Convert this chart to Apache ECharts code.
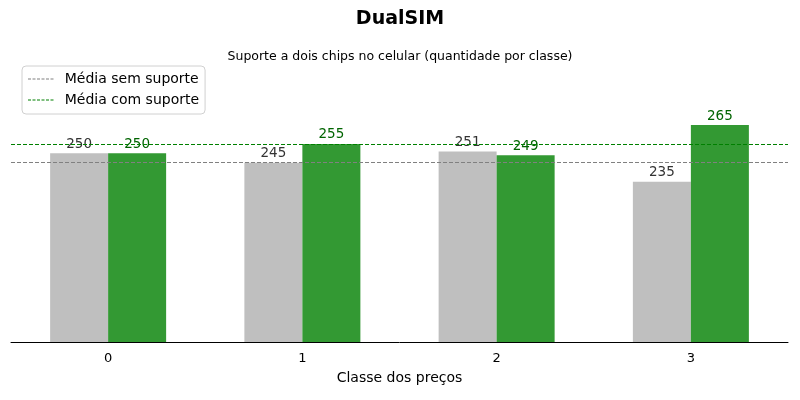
<!DOCTYPE html>
<html>
<head>
<meta charset="utf-8">
<script src="https://cdn.jsdelivr.net/npm/echarts@6/dist/echarts.min.js"></script>
<style>
html, body { margin: 0; padding: 0; background: #fff; }
#main { width: 800px; height: 400px; }
</style>
</head>
<body>
<div id="main"></div>
<script>
var categories = ['0', '1', '2', '3'];
var semSuporte = [250, 245, 251, 235];
var comSuporte = [250, 255, 249, 265];

function mean(arr) {
    var s = 0;
    for (var i = 0; i < arr.length; i++) s += arr[i];
    return s / arr.length;
}

var font = 'DejaVu Sans';
// linha tracejada para o ícone da legenda
var dashIcon = 'path://M0,0h3v1h-3z M4.5,0h3v1h-3z M9,0h3v1h-3z M13.5,0h3v1h-3z M18,0h3v1h-3z M22.5,0h3v1h-3z';

var option = {
    animation: false,
    color: ['#bfbfbf', '#339933', '#808080', '#008000'],
    textStyle: { fontFamily: font },
    title: [{
        text: 'DualSIM',
        left: 'center',
        top: 5,
        textStyle: { fontFamily: font, fontSize: 19, fontWeight: 'bold', color: '#000' }
    }, {
        text: 'Suporte a dois chips no celular (quantidade por classe)',
        left: 'center',
        top: 45,
        textStyle: { fontFamily: font, fontSize: 12.5, fontWeight: 'normal', color: '#000' }
    }],
    legend: {
        left: 22,
        top: 66,
        orient: 'vertical',
        data: [
            { name: 'Média sem suporte', icon: dashIcon },
            { name: 'Média com suporte', icon: dashIcon }
        ],
        backgroundColor: '#fff',
        borderColor: '#d0d0d0',
        borderWidth: 1,
        borderRadius: 4,
        padding: [6, 6, 7, 6],
        itemGap: 7,
        itemWidth: 26,
        itemHeight: 1,
        textStyle: { fontFamily: font, fontSize: 14, color: '#000', padding: [0, 0, 0, 6] }
    },
    grid: { left: 11, right: 12, top: 59, bottom: 58 },
    xAxis: {
        type: 'category',
        data: categories,
        name: 'Classe dos preços',
        nameLocation: 'middle',
        nameGap: 29,
        nameTextStyle: { fontFamily: font, fontSize: 14, color: '#000' },
        axisLine: { lineStyle: { color: '#000', width: 1 } },
        axisTick: { alignWithLabel: true, length: 4, lineStyle: { color: '#000' } },
        axisLabel: { fontFamily: font, fontSize: 13, color: '#000', margin: 10 }
    },
    yAxis: {
        type: 'value',
        min: 150,
        max: 300,
        show: false,
        splitLine: { show: false }
    },
    series: [{
        name: 'Sem suporte',
        type: 'bar',
        data: semSuporte,
        barWidth: 58,
        barGap: '0%',
        itemStyle: { color: '#bfbfbf' },
        label: { show: true, position: 'top', distance: 2, fontFamily: font, fontSize: 13.5, color: '#333' },
        markLine: {
            silent: true,
            symbol: 'none',
            label: { show: false },
            lineStyle: { color: '#808080', type: [4, 2], width: 1 },
            data: [{ yAxis: mean(semSuporte) }]
        }
    }, {
        name: 'Com suporte',
        type: 'bar',
        data: comSuporte,
        barWidth: 58,
        barGap: '0%',
        itemStyle: { color: '#339933' },
        label: { show: true, position: 'top', distance: 2, fontFamily: font, fontSize: 13.5, color: '#006400' },
        markLine: {
            silent: true,
            symbol: 'none',
            label: { show: false },
            lineStyle: { color: '#008000', type: [4, 2], width: 1 },
            data: [{ yAxis: mean(comSuporte) }]
        }
    }, {
        name: 'Média sem suporte',
        type: 'line',
        data: [],
        symbol: 'none',
        color: '#808080',
        lineStyle: { color: '#808080', type: 'dashed', width: 1 }
    }, {
        name: 'Média com suporte',
        type: 'line',
        data: [],
        symbol: 'none',
        color: '#008000',
        lineStyle: { color: '#008000', type: 'dashed', width: 1 }
    }]
};

var chart = echarts.init(document.getElementById('main'));
chart.setOption(option);
</script>
</body>
</html>
